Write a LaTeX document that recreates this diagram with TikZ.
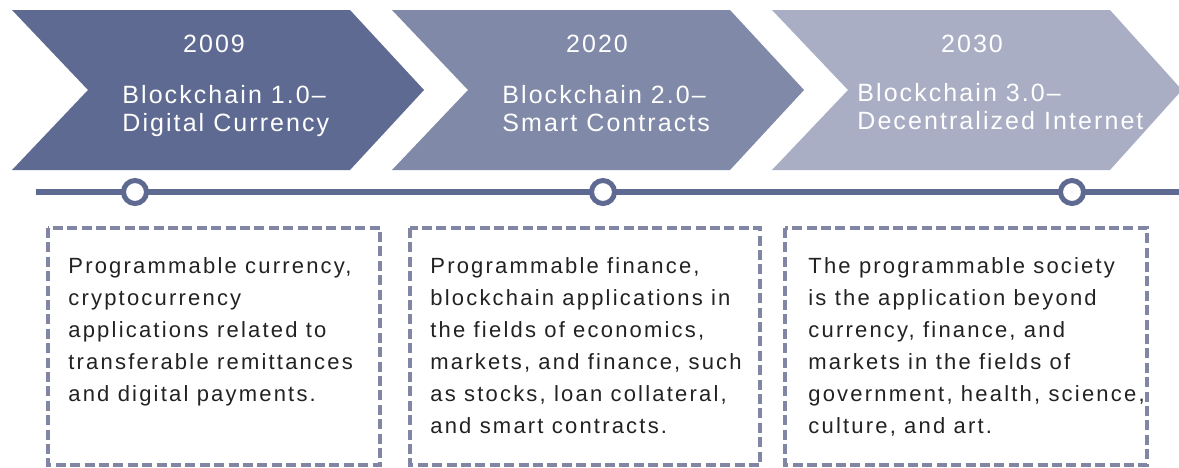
\documentclass[tikz,border=0pt]{standalone}
\usepackage{fontspec}
\setmainfont{Liberation Sans}
\newfontfamily\headfont[LetterSpace=8.3]{Liberation Sans}
\newfontfamily\bodyfont[LetterSpace=10]{Liberation Sans}
\definecolor{eraone}{HTML}{5E6A91}
\definecolor{eratwo}{HTML}{8089A7}
\definecolor{erathree}{HTML}{A9AEC4}
\definecolor{axisline}{HTML}{5F6A92}
\definecolor{dashline}{HTML}{8086A4}
\definecolor{bodytext}{HTML}{222222}

\begin{document}
\begin{tikzpicture}
[
    x=0.5pt, y=-0.5pt,
    year/.style={font=\headfont\fontsize{12.5}{14}\selectfont, text=white, inner sep=0, anchor=base},
    title/.style={font=\headfont\fontsize{12.5}{14}\selectfont, text=white, inner sep=0, anchor=north west, align=left},
    stop/.style={circle, draw=axisline, line width=2.5pt, fill=white, minimum size=11.5pt, inner sep=0},
    dashbox/.style={draw=dashline, line width=1.6pt, dash pattern=on 5pt off 2.2pt},
    body/.style={font=\bodyfont\fontsize{11}{16}\selectfont, text=bodytext, inner sep=0, anchor=north west, align=left},
]
\fill [white] (0,0) rectangle (1179,467);
\useasboundingbox (0,0) rectangle (1179,467);

\fill [eraone] (12,10) -- (350,10) -- (424,90) -- (350,170) -- (12,170) -- (88,90) -- cycle;
\fill [eratwo] (392,10) -- (730,10) -- (804,90) -- (730,170) -- (392,170) -- (468,90) -- cycle;
\fill [erathree] (772,10) -- (1110,10) -- (1182,90) -- (1110,170) -- (772,170) -- (848,90) -- cycle;

\node [year] (y2009) at (214,52) {2009};
\node [title] (t2009) at (122,85) {Blockchain 1.0–\\Digital Currency};
\node [year] (y2020) at (597,52) {2020};
\node [title] (t2020) at (502,85) {Blockchain 2.0–\\Smart Contracts};
\node [year] (y2030) at (972,52) {2030};
\node [title] (t2030) at (857,83) {Blockchain 3.0–\\Decentralized Internet};

\coordinate (axisstart) at (36,192);
\coordinate (axisend) at (1179,192);
\draw [axisline, line width=3pt] (axisstart) -- (axisend);
\node [stop] (s2009) at (135,192) {};
\node [stop] (s2020) at (603,192) {};
\node [stop] (s2030) at (1072,192) {};

\draw [dashbox] (48,228) rectangle (380,465);
\draw [dashbox] (410,228) rectangle (760,465);
\draw [dashbox] (785,228) rectangle (1147,465);

\node [body] (b2009) at (68,257) {Programmable currency,\\cryptocurrency\\applications related to\\transferable remittances\\and digital payments.};
\node [body] (b2020) at (430,257) {Programmable finance,\\blockchain applications in\\the fields of economics,\\markets, and finance, such\\as stocks, loan collateral,\\and smart contracts.};
\node [body] (b2030) at (808,257) {The programmable society\\is the application beyond\\currency, finance, and\\markets in the fields of\\government, health, science,\\culture, and art.};
\end{tikzpicture}
\end{document}
